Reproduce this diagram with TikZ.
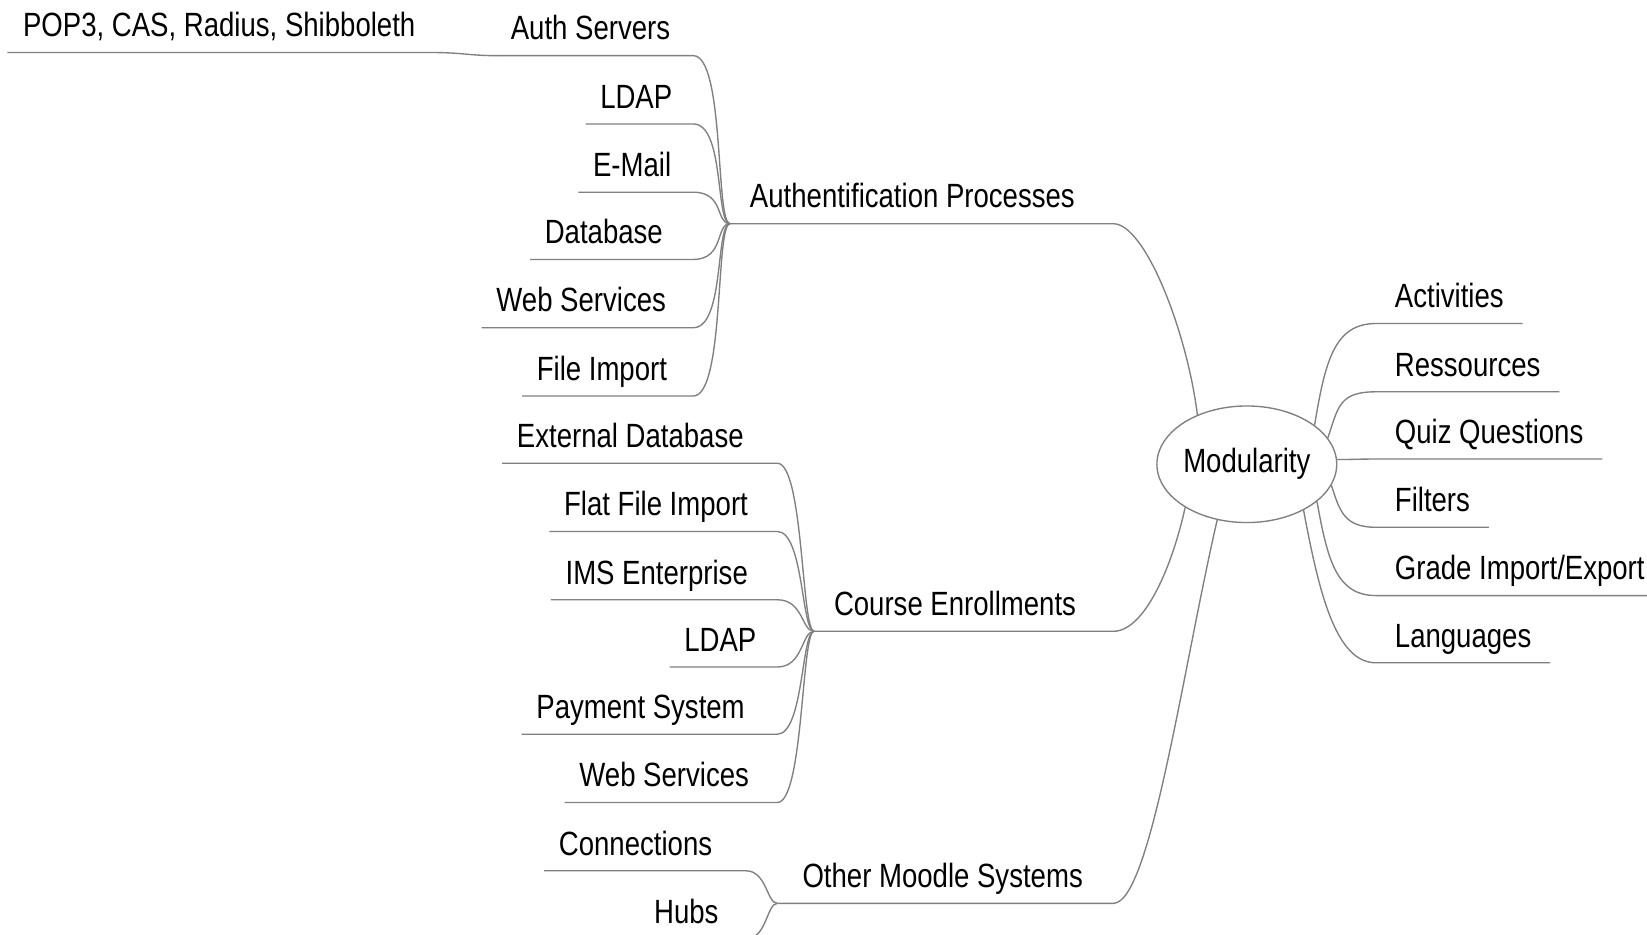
\documentclass[tikz,border=0pt]{standalone}
\usepackage{fontspec}
\setmainfont{Liberation Sans}[FakeStretch=0.82]
\usetikzlibrary{shapes.geometric, positioning, calc}
\definecolor{edgegray}{RGB}{128,128,128}
\newcommand{\mapfont}{\fontsize{32pt}{38pt}\selectfont}
\tikzset{leaf/.style={inner xsep=14pt, inner ysep=15pt, text depth=0pt, outer sep=0pt, font=\mapfont},
         leafL/.style={leaf, anchor=south east},
         leafR/.style={leaf, anchor=south west, inner xsep=18pt},
         topic/.style={leaf, anchor=south west, inner xsep=19pt},
         root/.style={draw=edgegray, ellipse, line width=1.3pt, minimum width=166pt,
                      minimum height=111pt, inner sep=0pt, font=\mapfont},
         branch/.style={draw=edgegray, line width=1.3pt}}
\begin{document}
\begin{tikzpicture}[x=1pt, y=-1pt]
        \clip (0,0) rectangle (1568,890);
        \fill[white] (0,0) rectangle (1568,890);

        % centre
        \node[root] (mod) at (1187,442) {Modularity};

        % main branches
        \coordinate (authhub) at (695,213);
        \coordinate (authend) at (1060,213);
        \coordinate (coursehub) at (775,601);
        \coordinate (courseend) at (1060,601);
        \coordinate (otherhub) at (740,860);
        \coordinate (otherend) at (1060,860);
        \node[topic] (auth) at (authhub) {Authentification Processes};
        \node[topic] (course) at (coursehub) {Course Enrollments};
        \node[topic, inner xsep=24pt] (other) at (otherhub) {Other Moodle Systems};

        \draw[branch] (mod.135) .. controls +(-10,-80) and +(30,0) .. (authend) -- (authhub);
        \draw[branch] (mod.215) .. controls +(-12,55) and +(30,0) .. (courseend) -- (coursehub);
        \draw[branch] (mod.242) .. controls +(-33,143) and +(35,0) .. (otherend) -- (otherhub);

        % right side
        \node[leafR] (act) at (1310,308) {Activities};
        \node[leafR] (res) at (1310,373) {Ressources};
        \node[leafR] (quiz) at (1310,437) {Quiz Questions};
        \node[leafR] (filt) at (1310,502) {Filters};
        \node[leafR] (grade) at (1310,567) {Grade Import/Export};
        \node[leafR] (lang) at (1310,631) {Languages};

        \draw[branch] (mod.30) .. controls +(10,-60) and +(-40,0) .. (act.south west) -- (act.south east);
        \draw[branch] (mod.18) .. controls +(10,-30) and +(-35,0) .. (res.south west) -- (res.south east);
        \draw[branch] (mod.3) .. controls +(15,0) and +(-15,0) .. (quiz.south west) -- (quiz.south east);
        \draw[branch] (mod.-14) .. controls +(8,25) and +(-30,0) .. (filt.south west) -- (filt.south east);
        \draw[branch] (mod.-28) .. controls +(10,55) and +(-38,0) .. (grade.south west) -- (grade.south east);
        \draw[branch] (mod.-39) .. controls +(15,80) and +(-38,0) .. (lang.south west) -- (lang.south east);

        % authentification
        \coordinate (authcol) at (660,0);
        \node[leafL] (authsrv) at (652,53) {Auth Servers};
        \node[leafL] (ldapA) at (654,118) {LDAP};
        \node[leafL] (email) at (653,183) {E-Mail};
        \node[leafL] (dbA) at (645,247) {Database};
        \node[leafL] (wsA) at (648,312) {Web Services};
        \node[leafL] (fileimp) at (649,377) {File Import};
        \foreach \n in {authsrv, ldapA, email, dbA, wsA, fileimp}
            \draw[branch] (\n.south west) -- (\n.south east -| authcol) .. controls +(30,0) and +(-14,0) .. (authhub);

        \node[leaf, anchor=south west, inner xsep=15pt] (pop) at (7,50) {POP3, CAS, Radius, Shibboleth};
        \draw[branch] (pop.south west) -- (pop.south east) .. controls +(30,0) and +(-25,0) .. (authsrv.south west);

        % enrollments
        \coordinate (coursecol) at (740,0);
        \node[leafL] (extdb) at (722,441) {External Database};
        \node[leafL] (flat) at (726,506) {Flat File Import};
        \node[leafL] (ims) at (726,571) {IMS Enterprise};
        \node[leafL] (ldapC) at (734,635) {LDAP};
        \node[leafL] (pay) at (723,699) {Payment System};
        \node[leafL] (wsC) at (727,764) {Web Services};
        \foreach \n in {extdb, flat, ims, ldapC, pay, wsC}
            \draw[branch] (\n.south west) -- (\n.south east -| coursecol) .. controls +(25,0) and +(-12,0) .. (coursehub);

        % other moodles
        \coordinate (othercol) at (710,0);
        \node[leafL] (conn) at (692,829) {Connections};
        \node[leafL] (hubs) at (698,894) {Hubs};
        \foreach \n in {conn, hubs}
            \draw[branch] (\n.south west) -- (\n.south east -| othercol) .. controls +(20,0) and +(-10,0) .. (otherhub);
\end{tikzpicture}
\end{document}
